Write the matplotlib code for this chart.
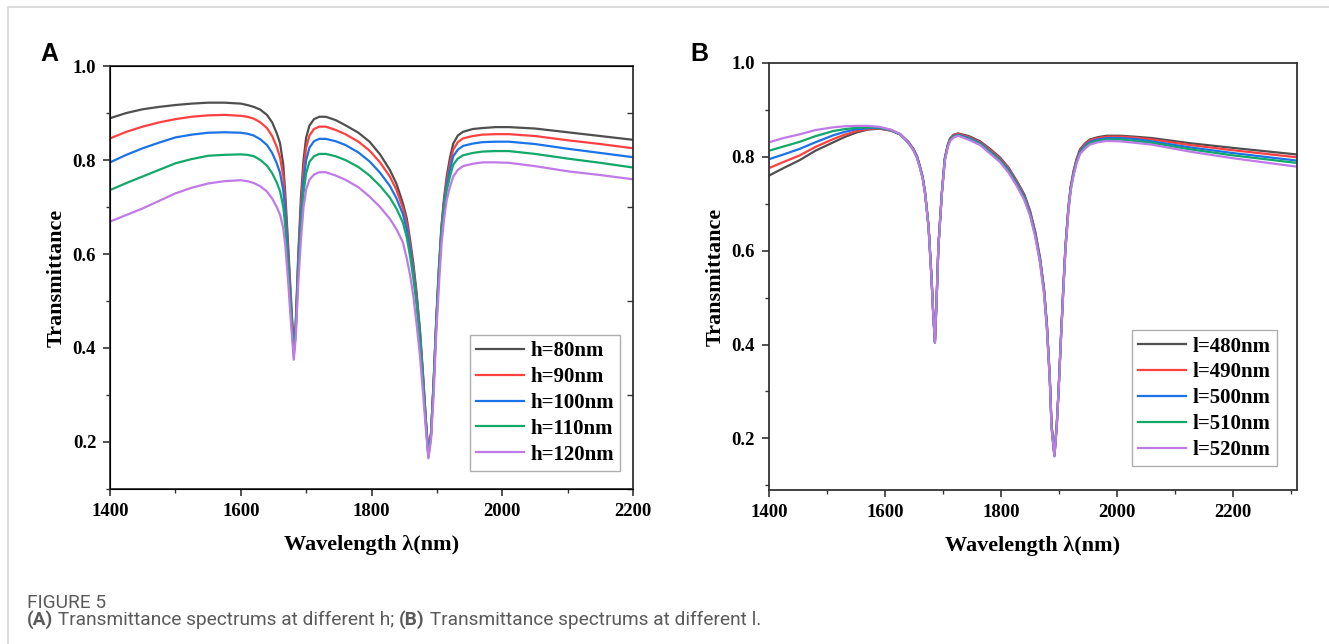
import matplotlib
matplotlib.use("Agg")
import matplotlib.pyplot as plt
from matplotlib.ticker import MultipleLocator, FormatStrFormatter
from matplotlib.patches import Rectangle

# ---- panel A: transmittance for different h ----
wl_a = [1400, 1425, 1450, 1475, 1500, 1525, 1550, 1575, 1600, 1610, 1620, 1630, 1640, 1648,
        1655, 1660, 1665, 1668, 1672, 1677, 1681, 1684, 1688, 1692, 1696, 1700, 1705, 1712,
        1720, 1730, 1745, 1760, 1780, 1797, 1813, 1828, 1838, 1848, 1854, 1859, 1864, 1869,
        1874, 1879, 1883, 1887, 1891, 1895, 1899, 1903, 1907, 1911, 1915, 1920, 1925, 1932,
        1940, 1955, 1970, 1990, 2010, 2050, 2100, 2150, 2200]
h80 = [0.889, 0.900, 0.908, 0.913, 0.917, 0.920, 0.922, 0.922, 0.920, 0.917, 0.913, 0.907, 0.896,
       0.880, 0.857, 0.836, 0.79, 0.73, 0.63, 0.50, 0.40, 0.45, 0.60, 0.72, 0.80, 0.848, 0.873,
       0.887, 0.892, 0.892, 0.885, 0.874, 0.858, 0.839, 0.812, 0.779, 0.750, 0.708, 0.675, 0.63,
       0.58, 0.517, 0.44, 0.34, 0.25, 0.175, 0.22, 0.33, 0.46, 0.57, 0.66, 0.72, 0.765, 0.805,
       0.835, 0.852, 0.860, 0.866, 0.868, 0.870, 0.870, 0.867, 0.859, 0.851, 0.843]
h90 = [0.846, 0.860, 0.871, 0.880, 0.887, 0.892, 0.895, 0.896, 0.894, 0.892, 0.888, 0.880, 0.868,
       0.851, 0.828, 0.806, 0.765, 0.71, 0.615, 0.49, 0.395, 0.445, 0.59, 0.70, 0.78, 0.826, 0.852,
       0.866, 0.871, 0.871, 0.864, 0.855, 0.839, 0.820, 0.795, 0.765, 0.737, 0.698, 0.665, 0.62,
       0.57, 0.51, 0.435, 0.335, 0.248, 0.172, 0.218, 0.327, 0.456, 0.565, 0.655, 0.713, 0.755,
       0.793, 0.822, 0.838, 0.846, 0.851, 0.854, 0.855, 0.855, 0.851, 0.842, 0.834, 0.825]
h100 = [0.795, 0.811, 0.825, 0.837, 0.848, 0.854, 0.858, 0.859, 0.858, 0.856, 0.852, 0.844, 0.832,
        0.815, 0.793, 0.773, 0.735, 0.69, 0.60, 0.48, 0.39, 0.44, 0.58, 0.68, 0.755, 0.80, 0.826,
        0.840, 0.845, 0.845, 0.840, 0.832, 0.816, 0.797, 0.773, 0.745, 0.719, 0.685, 0.652, 0.61,
        0.56, 0.50, 0.43, 0.33, 0.245, 0.17, 0.215, 0.323, 0.452, 0.56, 0.65, 0.705, 0.745,
        0.78, 0.808, 0.822, 0.830, 0.835, 0.838, 0.839, 0.839, 0.834, 0.824, 0.815, 0.806]
h110 = [0.736, 0.751, 0.765, 0.779, 0.793, 0.802, 0.809, 0.811, 0.812, 0.811, 0.808, 0.800, 0.788,
        0.772, 0.752, 0.734, 0.70, 0.66, 0.58, 0.47, 0.385, 0.43, 0.565, 0.66, 0.73, 0.772, 0.796,
        0.808, 0.813, 0.813, 0.808, 0.800, 0.785, 0.767, 0.745, 0.72, 0.697, 0.667, 0.635, 0.595,
        0.548, 0.49, 0.42, 0.325, 0.242, 0.168, 0.212, 0.32, 0.448, 0.555, 0.645, 0.697, 0.735,
        0.765, 0.79, 0.803, 0.810, 0.815, 0.818, 0.819, 0.819, 0.813, 0.803, 0.794, 0.784]
h120 = [0.669, 0.683, 0.697, 0.713, 0.729, 0.741, 0.750, 0.755, 0.757, 0.755, 0.751, 0.744, 0.733,
        0.718, 0.700, 0.684, 0.655, 0.62, 0.55, 0.45, 0.375, 0.42, 0.54, 0.63, 0.70, 0.737, 0.758,
        0.769, 0.774, 0.774, 0.767, 0.758, 0.742, 0.722, 0.700, 0.675, 0.653, 0.625, 0.590, 0.555,
        0.51, 0.45, 0.385, 0.30, 0.23, 0.165, 0.205, 0.30, 0.43, 0.53, 0.62, 0.675, 0.715,
        0.743, 0.765, 0.779, 0.787, 0.792, 0.795, 0.795, 0.794, 0.787, 0.776, 0.768, 0.759]
labels_a = ["h=80nm", "h=90nm", "h=100nm", "h=110nm", "h=120nm"]

# ---- panel B: transmittance for different l ----
wl_b = [1400, 1425, 1453, 1480, 1511, 1530, 1551, 1570, 1590, 1610, 1626, 1640, 1649, 1655,
        1660, 1665, 1669, 1675, 1680, 1683, 1686, 1689, 1692, 1698, 1703, 1708, 1712, 1718,
        1726, 1745, 1764, 1780, 1798, 1813, 1827, 1840, 1850, 1859, 1867, 1874, 1879, 1884,
        1887, 1892, 1896, 1899, 1903, 1907, 1911, 1916, 1920, 1925, 1930, 1936, 1945, 1953,
        1967, 1982, 2005, 2030, 2060, 2126, 2200, 2310]
l480 = [0.760, 0.776, 0.793, 0.813, 0.831, 0.842, 0.852, 0.858, 0.860, 0.856, 0.848, 0.832, 0.817,
        0.802, 0.781, 0.757, 0.725, 0.654, 0.547, 0.47, 0.406, 0.50, 0.610, 0.725, 0.797, 0.825,
        0.839, 0.847, 0.850, 0.844, 0.833, 0.818, 0.799, 0.777, 0.749, 0.720, 0.685, 0.640, 0.586,
        0.520, 0.444, 0.330, 0.230, 0.165, 0.230, 0.300, 0.410, 0.515, 0.610, 0.692, 0.737, 0.770,
        0.795, 0.816, 0.829, 0.837, 0.842, 0.845, 0.845, 0.843, 0.840, 0.829, 0.819, 0.805]
l490 = [0.776, 0.789, 0.803, 0.821, 0.838, 0.847, 0.855, 0.859, 0.861, 0.856, 0.848, 0.832, 0.816,
        0.801, 0.780, 0.756, 0.724, 0.653, 0.546, 0.469, 0.405, 0.499, 0.609, 0.724, 0.796, 0.824,
        0.838, 0.846, 0.849, 0.842, 0.831, 0.816, 0.797, 0.775, 0.747, 0.718, 0.683, 0.638, 0.584,
        0.518, 0.442, 0.329, 0.228, 0.164, 0.229, 0.299, 0.409, 0.513, 0.608, 0.690, 0.735, 0.768,
        0.793, 0.814, 0.827, 0.835, 0.840, 0.843, 0.843, 0.841, 0.837, 0.825, 0.814, 0.799]
l500 = [0.795, 0.805, 0.817, 0.831, 0.846, 0.853, 0.859, 0.861, 0.862, 0.857, 0.848, 0.831, 0.815,
        0.800, 0.779, 0.755, 0.723, 0.652, 0.545, 0.468, 0.405, 0.498, 0.609, 0.723, 0.794, 0.823,
        0.836, 0.844, 0.847, 0.840, 0.829, 0.813, 0.794, 0.772, 0.744, 0.715, 0.680, 0.635, 0.581,
        0.515, 0.439, 0.327, 0.226, 0.163, 0.228, 0.298, 0.407, 0.510, 0.606, 0.687, 0.732, 0.765,
        0.790, 0.811, 0.824, 0.832, 0.837, 0.840, 0.840, 0.838, 0.833, 0.820, 0.808, 0.792]
l510 = [0.813, 0.822, 0.832, 0.844, 0.855, 0.859, 0.862, 0.863, 0.863, 0.857, 0.848, 0.830, 0.814,
        0.799, 0.778, 0.754, 0.722, 0.651, 0.544, 0.467, 0.404, 0.497, 0.608, 0.722, 0.793, 0.822,
        0.835, 0.843, 0.846, 0.838, 0.827, 0.811, 0.792, 0.769, 0.741, 0.712, 0.677, 0.632, 0.578,
        0.512, 0.436, 0.325, 0.224, 0.162, 0.227, 0.297, 0.406, 0.508, 0.604, 0.685, 0.730, 0.763,
        0.788, 0.808, 0.821, 0.829, 0.834, 0.837, 0.837, 0.834, 0.830, 0.816, 0.803, 0.787]
l520 = [0.831, 0.840, 0.848, 0.857, 0.863, 0.865, 0.866, 0.866, 0.864, 0.858, 0.849, 0.830, 0.814,
        0.798, 0.777, 0.753, 0.721, 0.650, 0.543, 0.466, 0.404, 0.496, 0.607, 0.721, 0.791, 0.820,
        0.833, 0.841, 0.845, 0.836, 0.825, 0.808, 0.789, 0.766, 0.738, 0.708, 0.674, 0.629, 0.575,
        0.509, 0.434, 0.323, 0.222, 0.162, 0.226, 0.296, 0.405, 0.506, 0.602, 0.683, 0.728, 0.761,
        0.785, 0.806, 0.818, 0.826, 0.831, 0.834, 0.833, 0.830, 0.826, 0.811, 0.797, 0.779]
labels_b = ["l=480nm", "l=490nm", "l=500nm", "l=510nm", "l=520nm"]

colors = ["#4f4f4f", "#ff4040", "#1a73e8", "#12a86a", "#c07ae8"]
serif = "Liberation Serif"

fig = plt.figure(figsize=(13.29, 6.44), dpi=100)

# light page frame (top and left edges show)
fig.add_artist(Rectangle((8 / 1329, -0.1), 1.1, (644 - 7) / 644 + 0.1,
                         transform=fig.transFigure, fill=False, ec="#d6d6d6", lw=1.2))


def style_axes(ax, xmax, ymin):
    ax.set_xlim(1400, xmax)
    ax.set_ylim(ymin, 1.0)
    ax.xaxis.set_major_locator(MultipleLocator(200))
    ax.xaxis.set_minor_locator(MultipleLocator(100))
    ax.yaxis.set_major_locator(MultipleLocator(0.2))
    ax.yaxis.set_minor_locator(MultipleLocator(0.1))
    ax.yaxis.set_major_formatter(FormatStrFormatter("%.1f"))
    ax.tick_params(which="major", direction="out", length=5, width=1.2, color="#333333", pad=5)
    ax.tick_params(which="minor", direction="out", length=3, width=1.0, color="#333333")
    for s in ax.spines.values():
        s.set_linewidth(1.3)
        s.set_color("#333333")
    for lab in ax.get_xticklabels() + ax.get_yticklabels():
        lab.set_fontfamily(serif)
        lab.set_fontweight("bold")
        lab.set_fontsize(13.5)
    ax.set_xlabel("Wavelength λ(nm)", fontfamily=serif, fontweight="bold", fontsize=16, labelpad=11)
    ax.set_ylabel("Transmittance", fontfamily=serif, fontweight="bold", fontsize=16, labelpad=4)


def add_legend(ax, anchor):
    leg = ax.legend(loc="lower right", bbox_to_anchor=anchor, borderaxespad=0,
                    prop={"family": serif, "weight": "bold", "size": 15}, frameon=True,
                    fancybox=False, edgecolor="#9a9a9a", handlelength=2.3, handletextpad=0.3,
                    labelspacing=0.28, borderpad=0.3)
    leg.get_frame().set_linewidth(1.0)


# panel A
ax1 = fig.add_axes([0.0828, 0.2407, 0.3935, 0.6568])
for y, c, lab in zip([h80, h90, h100, h110, h120], colors, labels_a):
    ax1.plot(wl_a, y, color=c, lw=1.6, label=lab)
style_axes(ax1, 2200, 0.1)
add_legend(ax1, (0.975, 0.043))

# inward minor ticks on the right spine of panel A
axr = ax1.twinx()
axr.set_ylim(ax1.get_ylim())
axr.yaxis.set_major_locator(MultipleLocator(0.2))
axr.yaxis.set_minor_locator(MultipleLocator(0.1))
axr.tick_params(which="major", length=0, labelright=False)
axr.tick_params(which="minor", direction="in", length=4, width=1.0, color="#333333")
axr.spines["right"].set_visible(False)

# panel B
ax2 = fig.add_axes([0.5786, 0.2391, 0.3973, 0.6631])
for y, c, lab in zip([l480, l490, l500, l510, l520], colors, labels_b):
    ax2.plot(wl_b, y, color=c, lw=1.6, label=lab)
style_axes(ax2, 2310, 0.09)
add_legend(ax2, (0.962, 0.056))

# panel letters
for xpx, letter in [(40, "A"), (690, "B")]:
    fig.text(xpx / 1329, 1 - 61 / 644, letter, fontfamily="Liberation Sans",
             fontweight="bold", fontsize=18, va="baseline")

# caption
cap_kw = dict(fontfamily="Roboto", fontsize=13.8, color="#5a5a5a")
fig.text(27 / 1329, 1 - 608 / 644, "FIGURE 5", va="baseline", **cap_kw)
parts = [("(A)", "bold"), (" Transmittance spectrums at different h; ", "normal"),
         ("(B)", "bold"), (" Transmittance spectrums at different l.", "normal")]
prev = fig.text(27 / 1329, 1 - 629 / 644, parts[0][0], fontweight=parts[0][1],
                va="bottom", **cap_kw)
for txt, w in parts[1:]:
    prev = ax1.annotate(txt, xy=(1, 0), xycoords=prev, ha="left", va="bottom",
                        fontweight=w, annotation_clip=False, **cap_kw)

fig.savefig("out.png", dpi=100)
